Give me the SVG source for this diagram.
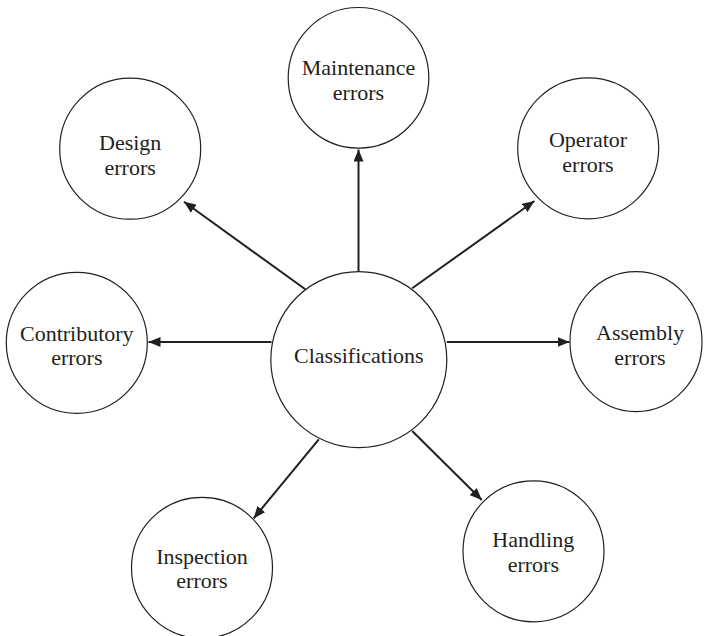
<svg xmlns="http://www.w3.org/2000/svg" width="704" height="636" viewBox="0 0 704 636">
  <style>
    .node { fill: #ffffff; stroke: #231f20; stroke-width: 1.2; }
    .label { font-family: "Liberation Serif", "Times New Roman", serif; font-size: 22px; fill: #231f20; text-anchor: middle; }
    .edge { stroke: #231f20; stroke-width: 2; fill: none; marker-end: url(#arrow); }
  </style>
  <defs>
    <marker id="arrow" viewBox="0 0 12 10" refX="12" refY="5" markerWidth="12" markerHeight="10" markerUnits="userSpaceOnUse" orient="auto">
      <path d="M0,0 L12,5 L0,10 Z" fill="#231f20"/>
    </marker>
  </defs>
  <rect width="704" height="636" fill="#ffffff"/>

  <g id="connectors">
    <line class="edge" x1="358.5" y1="271.7" x2="358.5" y2="149.5"/>
    <line class="edge" x1="305.3" y1="289.3" x2="184" y2="201.7"/>
    <line class="edge" x1="412.2" y1="288.3" x2="534.4" y2="201"/>
    <line class="edge" x1="271.5" y1="342" x2="148.5" y2="342"/>
    <line class="edge" x1="446.8" y1="342" x2="569.5" y2="342"/>
    <line class="edge" x1="318.8" y1="439.3" x2="253.7" y2="518.3"/>
    <line class="edge" x1="412.2" y1="431" x2="481.8" y2="500"/>
  </g>

  <g id="classifications">
    <circle class="node" cx="358.8" cy="359.7" r="88"/>
    <text class="label" x="358.8" y="363">Classifications</text>
  </g>

  <g id="maintenance">
    <circle class="node" cx="358.5" cy="77.8" r="70.3"/>
    <text class="label" x="358.5" y="75">Maintenance</text>
    <text class="label" x="358.5" y="100">errors</text>
  </g>

  <g id="design">
    <circle class="node" cx="130.2" cy="148.7" r="70.5"/>
    <text class="label" x="130.2" y="149.5">Design</text>
    <text class="label" x="130.2" y="174.5">errors</text>
  </g>

  <g id="operator">
    <circle class="node" cx="588.2" cy="148.3" r="70.5"/>
    <text class="label" x="588" y="146.7">Operator</text>
    <text class="label" x="588" y="171.7">errors</text>
  </g>

  <g id="contributory">
    <circle class="node" cx="76.8" cy="342.8" r="70.5"/>
    <text class="label" x="76.8" y="340.7">Contributory</text>
    <text class="label" x="76.8" y="365">errors</text>
  </g>

  <g id="assembly">
    <ellipse class="node" cx="636" cy="341.7" rx="66" ry="70"/>
    <text class="label" x="640" y="340">Assembly</text>
    <text class="label" x="640" y="365">errors</text>
  </g>

  <g id="inspection">
    <circle class="node" cx="202" cy="567.8" r="70.5"/>
    <text class="label" x="202" y="564">Inspection</text>
    <text class="label" x="202" y="588.3">errors</text>
  </g>

  <g id="handling">
    <circle class="node" cx="533.5" cy="551.3" r="70.5"/>
    <text class="label" x="533.3" y="547.3">Handling</text>
    <text class="label" x="533.3" y="571.7">errors</text>
  </g>
</svg>
